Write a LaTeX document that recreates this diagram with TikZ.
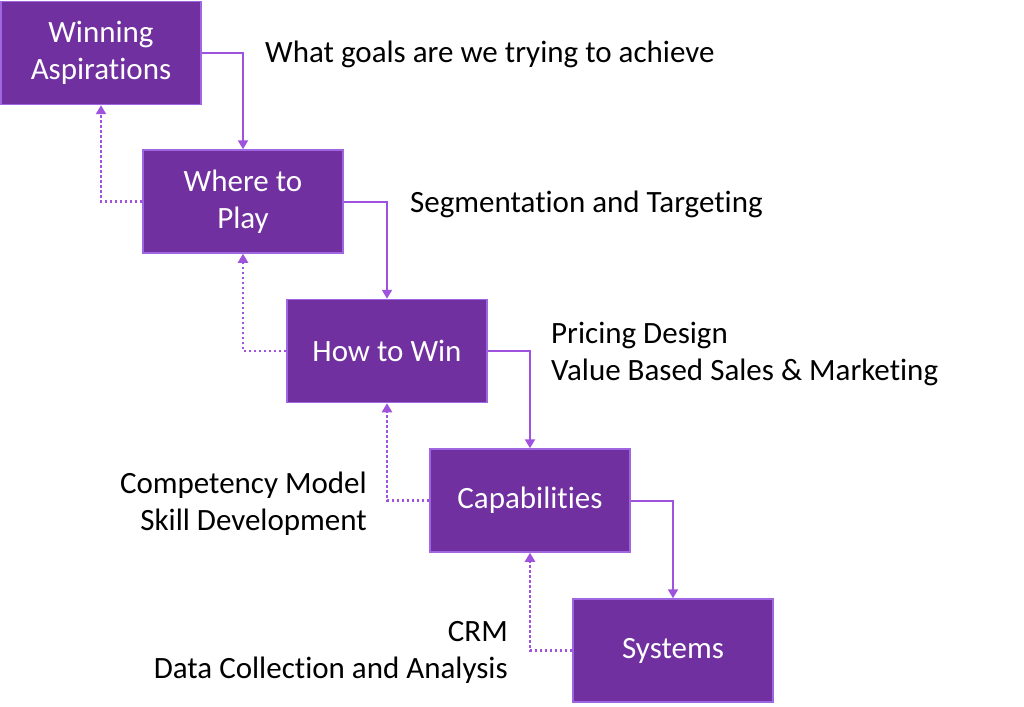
\documentclass[tikz,border=0pt]{standalone}
\usepackage{fontspec}
\setmainfont[RawFeature={-liga}]{Carlito}
\usetikzlibrary{arrows.meta}
\definecolor{boxfill}{HTML}{7030A0}
\definecolor{boxedge}{HTML}{A065E0}
\definecolor{arrowc}{HTML}{9F52DE}
\tikzset{
  stage/.style={draw=boxedge, line width=1.5pt, fill=boxfill, text=white,
    minimum width=200pt, minimum height=103pt, inner sep=0pt, align=center,
    font=\fontsize{31}{37}\selectfont},
  lbl/.style={inner sep=0pt, font=\fontsize{31}{37}\selectfont, text=black},
  fwd/.style={draw=arrowc, line width=2pt, -{Triangle[width=10pt,length=9pt]}},
  back/.style={draw=arrowc, line width=2.4pt, dash pattern=on 2.4pt off 2.6pt, -{Triangle[width=10pt,length=9pt]}},
}
\begin{document}
\begin{tikzpicture}[x=1pt,y=-1pt]
\useasboundingbox[fill=white] (0,0) rectangle (1024,706);
\node[stage] (b1) at (101,53) {Winning\\Aspirations};
\node[stage] (b2) at (243,201.5) {Where to\\Play};
\node[stage] (b3) at (387,351) {How to Win};
\node[stage] (b4) at (530,500.5) {Capabilities};
\node[stage] (b5) at (673,650.5) {Systems};
\draw[fwd] (b1.east) -| (b2.north);
\draw[fwd] (b2.east) -| (b3.north);
\draw[fwd] (b3.east) -| (b4.north);
\draw[fwd] (b4.east) -| (b5.north);
\draw[back] (b2.west) -| (b1.south);
\draw[back] (b3.west) -| (b2.south);
\draw[back] (b4.west) -| (b3.south);
\draw[back] (b5.west) -| (b4.south);
\node[lbl, anchor=west] (t1) at (265,54.5) {What goals are we trying to achieve};
\node[lbl, anchor=west] (t2) at (410,204.5) {Segmentation and Targeting};
\node[lbl, anchor=west, align=left] (t3) at (551,353.5) {Pricing Design\\Value Based Sales \& Marketing};
\node[lbl, anchor=east, align=right] (t4) at (367,503.5) {Competency Model\\Skill Development};
\node[lbl, anchor=east, align=right] (t5) at (508,652.5) {CRM\\Data Collection and Analysis};
\end{tikzpicture}
\end{document}
